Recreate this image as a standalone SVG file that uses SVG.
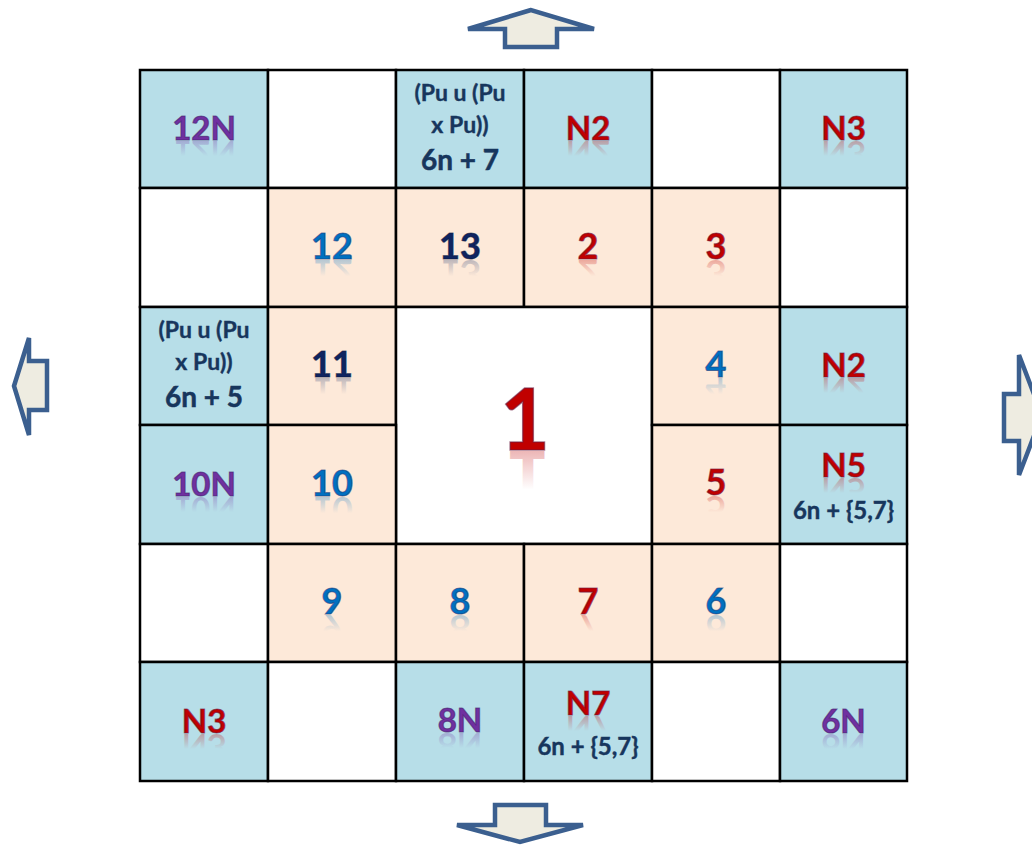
<svg xmlns="http://www.w3.org/2000/svg" width="1032" height="846" viewBox="0 0 1032 846">
<defs>
<linearGradient id="rRed" x1="0" y1="0" x2="0" y2="1"><stop offset="0.45" stop-color="#C00000" stop-opacity="0"/><stop offset="0.82" stop-color="#C00000" stop-opacity="0.28"/></linearGradient>
<linearGradient id="rBlue" x1="0" y1="0" x2="0" y2="1"><stop offset="0.45" stop-color="#0070C0" stop-opacity="0"/><stop offset="0.82" stop-color="#0070C0" stop-opacity="0.28"/></linearGradient>
<linearGradient id="rNavy" x1="0" y1="0" x2="0" y2="1"><stop offset="0.45" stop-color="#002060" stop-opacity="0"/><stop offset="0.82" stop-color="#002060" stop-opacity="0.25"/></linearGradient>
<linearGradient id="rPurple" x1="0" y1="0" x2="0" y2="1"><stop offset="0.45" stop-color="#7030A0" stop-opacity="0"/><stop offset="0.82" stop-color="#7030A0" stop-opacity="0.28"/></linearGradient>
</defs>
<style>
.cell{stroke:#000;stroke-width:2.5}
.b{fill:#B7DEE8}
.p{fill:#FDE9D9}
.w{fill:#FFFFFF}
text{font-family:Lato,"Open Sans","Liberation Sans",sans-serif;font-weight:bold;text-anchor:middle}
.num{font-size:36px}
.lab{font-size:33px}
.red{fill:#C00000;stroke:#6a1a40;stroke-width:1.1;stroke-opacity:0.6}
.blue{fill:#0070C0;stroke:#1a3a7a;stroke-width:1.1;stroke-opacity:0.6}
.navy{fill:#0F2461;stroke:#0a1a40;stroke-width:1.1;stroke-opacity:0.6}
.purple{fill:#7030A0;stroke:#40206a;stroke-width:1.1;stroke-opacity:0.6}
.rr{fill:url(#rRed)}
.rb{fill:url(#rBlue)}
.rn{fill:url(#rNavy)}
.rp{fill:url(#rPurple)}
.sm{fill:#17365D;font-size:23px;stroke:#17365D;stroke-width:0.4}
.md{fill:#17365D;font-size:28px;stroke:#17365D;stroke-width:0.5}
.arrow{fill:#EEECE1;stroke:#3B5F8F;stroke-width:4.5;stroke-linejoin:miter}
</style>

<!-- Row 0 -->
<g id="c-12N"><rect class="cell b" x="140" y="70" width="128" height="118"/><text class="lab purple" x="204" y="140">12N</text><text class="lab rp" x="204" y="140" transform="matrix(1,0,0,-1,0,281)">12N</text></g>
<g id="c-r0c1"><rect class="cell w" x="268" y="70" width="128" height="118"/></g>
<g id="c-pu7"><rect class="cell b" x="396" y="70" width="128" height="118"/><text class="sm" x="460" y="101">(Pu u (Pu</text><text class="sm" x="460" y="133">x Pu))</text><text class="md" x="460" y="170">6n + 7</text></g>
<g id="c-N2top"><rect class="cell b" x="524" y="70" width="128" height="118"/><text class="lab red" x="588" y="140">N2</text><text class="lab rr" x="588" y="140" transform="matrix(1,0,0,-1,0,281)">N2</text></g>
<g id="c-r0c4"><rect class="cell w" x="652" y="70" width="128" height="118"/></g>
<g id="c-N3top"><rect class="cell b" x="780" y="70" width="127" height="118"/><text class="lab red" x="843.5" y="140">N3</text><text class="lab rr" x="843.5" y="140" transform="matrix(1,0,0,-1,0,281)">N3</text></g>

<!-- Row 1 -->
<g id="c-r1c0"><rect class="cell w" x="140" y="188" width="128" height="119"/></g>
<g id="c-12"><rect class="cell p" x="268" y="188" width="128" height="119"/><text class="num blue" x="332" y="259">12</text><text class="num rb" x="332" y="259" transform="matrix(1,0,0,-1,0,519)">12</text></g>
<g id="c-13"><rect class="cell p" x="396" y="188" width="128" height="119"/><text class="num navy" x="460" y="259">13</text><text class="num rn" x="460" y="259" transform="matrix(1,0,0,-1,0,519)">13</text></g>
<g id="c-2"><rect class="cell p" x="524" y="188" width="128" height="119"/><text class="num red" x="588" y="259">2</text><text class="num rr" x="588" y="259" transform="matrix(1,0,0,-1,0,519)">2</text></g>
<g id="c-3"><rect class="cell p" x="652" y="188" width="128" height="119"/><text class="num red" x="716" y="259">3</text><text class="num rr" x="716" y="259" transform="matrix(1,0,0,-1,0,519)">3</text></g>
<g id="c-r1c5"><rect class="cell w" x="780" y="188" width="127" height="119"/></g>

<!-- Row 2 -->
<g id="c-pu5"><rect class="cell b" x="140" y="307" width="128" height="118"/><text class="sm" x="204" y="338">(Pu u (Pu</text><text class="sm" x="204" y="370">x Pu))</text><text class="md" x="204" y="407">6n + 5</text></g>
<g id="c-11"><rect class="cell p" x="268" y="307" width="128" height="118"/><text class="num navy" x="332" y="377">11</text><text class="num rn" x="332" y="377" transform="matrix(1,0,0,-1,0,755)">11</text></g>
<g id="c-1"><rect class="cell w" x="396" y="307" width="256" height="237"/><text class="red" style="font-size:86px;stroke-width:1.5" x="525" y="450">1</text><text class="rr" style="font-size:86px" x="525" y="450" transform="matrix(1,0,0,-1,0,901)">1</text></g>
<g id="c-4"><rect class="cell p" x="652" y="307" width="128" height="118"/><text class="num blue" x="716" y="377">4</text><text class="num rb" x="716" y="377" transform="matrix(1,0,0,-1,0,755)">4</text></g>
<g id="c-N2right"><rect class="cell b" x="780" y="307" width="127" height="118"/><text class="lab red" x="843.5" y="377">N2</text><text class="lab rr" x="843.5" y="377" transform="matrix(1,0,0,-1,0,755)">N2</text></g>

<!-- Row 3 -->
<g id="c-10N"><rect class="cell b" x="140" y="425" width="128" height="119"/><text class="lab purple" x="204" y="496">10N</text><text class="lab rp" x="204" y="496" transform="matrix(1,0,0,-1,0,993)">10N</text></g>
<g id="c-10"><rect class="cell p" x="268" y="425" width="128" height="119"/><text class="num blue" x="332" y="496">10</text><text class="num rb" x="332" y="496" transform="matrix(1,0,0,-1,0,993)">10</text></g>
<g id="c-5"><rect class="cell p" x="652" y="425" width="128" height="119"/><text class="num red" x="716" y="495">5</text><text class="num rr" x="716" y="495" transform="matrix(1,0,0,-1,0,991)">5</text></g>
<g id="c-N5"><rect class="cell b" x="780" y="425" width="127" height="119"/><text class="lab red" x="843.5" y="477">N5</text><text class="lab rr" x="843.5" y="477" transform="matrix(1,0,0,-1,0,955)">N5</text><text class="sm" style="font-size:24px" x="843.5" y="519">6n + {5,7}</text></g>

<!-- Row 4 -->
<g id="c-r4c0"><rect class="cell w" x="140" y="544" width="128" height="118"/></g>
<g id="c-9"><rect class="cell p" x="268" y="544" width="128" height="118"/><text class="num blue" x="332" y="614">9</text><text class="num rb" x="332" y="614" transform="matrix(1,0,0,-1,0,1229)">9</text></g>
<g id="c-8"><rect class="cell p" x="396" y="544" width="128" height="118"/><text class="num blue" x="460" y="614">8</text><text class="num rb" x="460" y="614" transform="matrix(1,0,0,-1,0,1229)">8</text></g>
<g id="c-7"><rect class="cell p" x="524" y="544" width="128" height="118"/><text class="num red" x="588" y="614">7</text><text class="num rr" x="588" y="614" transform="matrix(1,0,0,-1,0,1229)">7</text></g>
<g id="c-6"><rect class="cell p" x="652" y="544" width="128" height="118"/><text class="num blue" x="716" y="614">6</text><text class="num rb" x="716" y="614" transform="matrix(1,0,0,-1,0,1229)">6</text></g>
<g id="c-r4c5"><rect class="cell w" x="780" y="544" width="127" height="118"/></g>

<!-- Row 5 -->
<g id="c-N3bottom"><rect class="cell b" x="140" y="662" width="128" height="119"/><text class="lab red" x="204" y="733">N3</text><text class="lab rr" x="204" y="733" transform="matrix(1,0,0,-1,0,1467)">N3</text></g>
<g id="c-r5c1"><rect class="cell w" x="268" y="662" width="128" height="119"/></g>
<g id="c-8N"><rect class="cell b" x="396" y="662" width="128" height="119"/><text class="lab purple" x="460" y="732">8N</text><text class="lab rp" x="460" y="732" transform="matrix(1,0,0,-1,0,1465)">8N</text></g>
<g id="c-N7"><rect class="cell b" x="524" y="662" width="128" height="119"/><text class="lab red" x="588" y="715">N7</text><text class="lab rr" x="588" y="715" transform="matrix(1,0,0,-1,0,1431)">N7</text><text class="sm" style="font-size:24px" x="588" y="755">6n + {5,7}</text></g>
<g id="c-r5c4"><rect class="cell w" x="652" y="662" width="128" height="119"/></g>
<g id="c-6N"><rect class="cell b" x="780" y="662" width="127" height="119"/><text class="lab purple" x="843.5" y="733">6N</text><text class="lab rp" x="843.5" y="733" transform="matrix(1,0,0,-1,0,1467)">6N</text></g>

<!-- Arrows -->
<g id="connectors">
<path id="arrow-up" class="arrow" d="M531,10 L468,29 L505,29 L505,47 L557,47 L557,29 L594,29 Z"/>
<path id="arrow-down" class="arrow" d="M495,805 L546,805 L546,825 L583,825 L520,842 L457,825 L495,825 Z"/>
<path id="arrow-left" class="arrow" d="M14,386 L29,338 L29,361 L47,361 L47,410 L29,410 L29,435 Z"/>
<path id="arrow-right" class="arrow" d="M1004,394 L1019,394 L1019,355 L1042,415 L1019,475 L1019,441 L1004,441 Z"/>
</g>
</svg>
